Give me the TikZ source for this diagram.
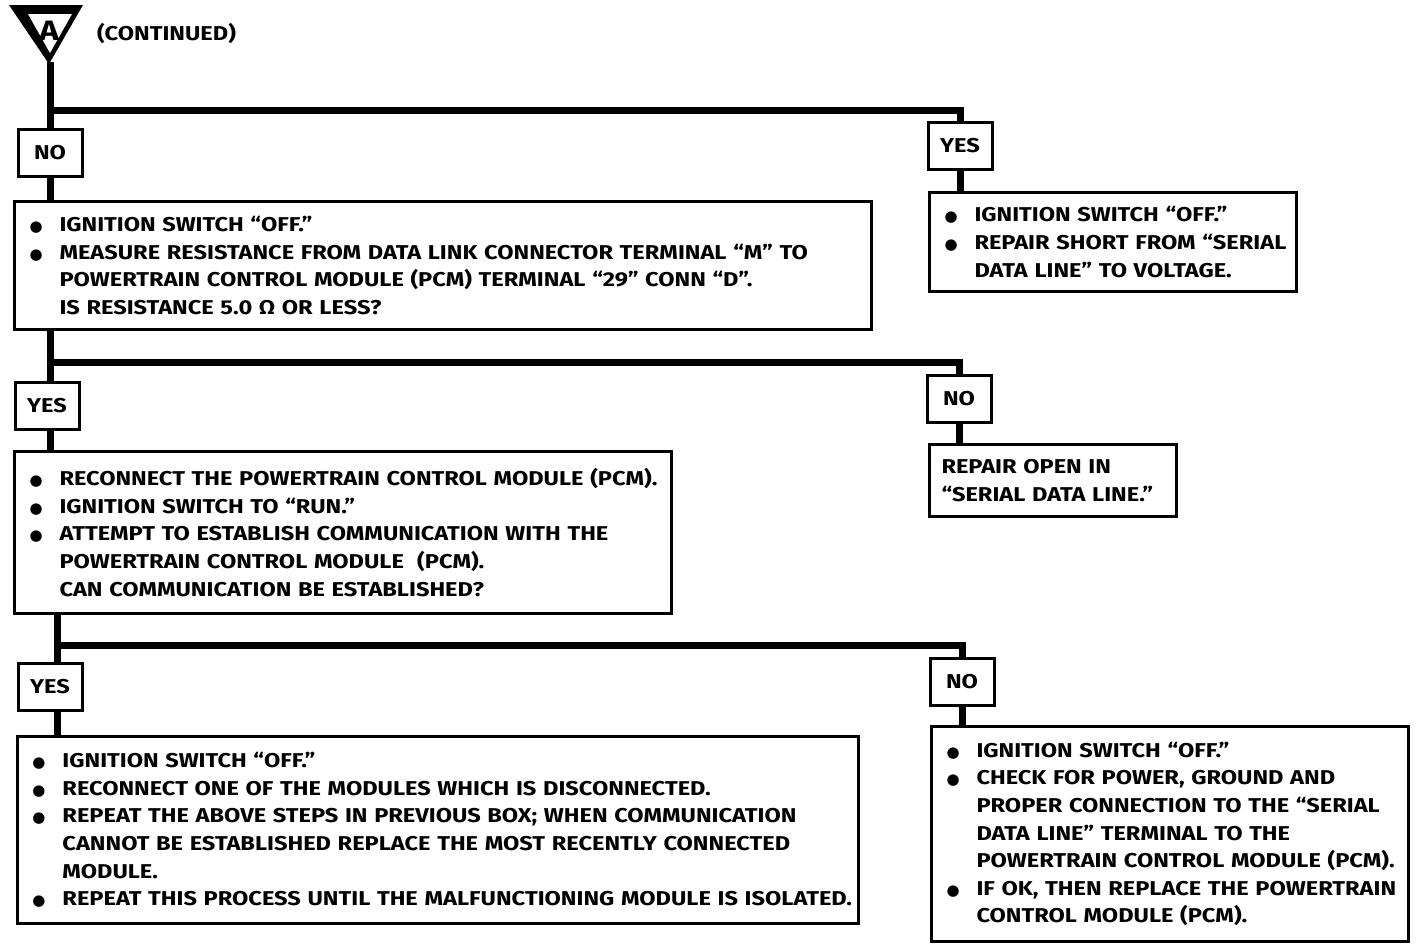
\documentclass[tikz,border=0pt]{standalone}
\usepackage{fontspec}
\setmainfont[FakeStretch=1.18]{Fira Sans}
\newfontfamily\symfont{DejaVu Sans}
\usetikzlibrary{positioning}

\newcommand\bl[1]{\makebox[16pt][l]{\hspace{1pt}{\symfont\fontsize{7.5}{7.5}\selectfont ●}}\mbox{#1}}
\newcommand\cl[1]{\hspace*{16pt}\mbox{#1}}

\tikzset{
  stepbox/.style={draw, line width=1.5pt, anchor=north west, align=left,
    inner xsep=6.5pt, inner ysep=0pt},
  answer/.style={draw, line width=1.5pt, minimum width=32pt,
    minimum height=23.5pt, inner sep=0pt},
  wire/.style={line width=3.5pt}
}

\begin{document}
\begin{tikzpicture}[x=0.5pt, y=-0.5pt, font=\bfseries\fontsize{10}{13.8}\selectfont]
  \useasboundingbox (0,0) rectangle (1424,948);

  % continuation mark
  \fill (9,5) -- (83,5) -- (49,64) -- cycle;
  \fill[white] (28,14) -- (72,14) -- (50,53) -- cycle;
  \node[font=\bfseries\fontsize{14}{14}\selectfont] (mark) at (49,31) {A};
  \coordinate (apex) at (50,62);
  \node[anchor=west] (cont) at (90,33) {(CONTINUED)};

  % first test
  \node[answer] (no1) at (50,153) {NO};
  \node[answer] (yes1) at (960,146) {YES};
  \node[stepbox, text width=415.5pt, minimum height=64pt] (chk1) at (13,200)
    {\bl{IGNITION SWITCH “OFF.”}\\
     \bl{MEASURE RESISTANCE FROM DATA LINK CONNECTOR TERMINAL “M” TO}\\
     \cl{POWERTRAIN CONTROL MODULE (PCM) TERMINAL “29” CONN “D”.}\\
     \cl{IS RESISTANCE 5.0 Ω OR LESS?}};
  \node[stepbox, text width=170.5pt, minimum height=49.5pt] (rep1) at (928,191)
    {\bl{IGNITION SWITCH “OFF.”}\\
     \bl{REPAIR SHORT FROM “SERIAL}\\
     \cl{DATA LINE” TO VOLTAGE.}};
  \coordinate (j1) at (50,110);
  \draw[wire] (apex) -- (no1.north);
  \draw[wire] (j1) -| (yes1.north);
  \draw[wire] (no1.south) -- (no1.south |- chk1.north);
  \draw[wire] (yes1.south) -- (yes1.south |- rep1.north);

  % second test
  \node[answer] (yes2) at (47,406) {YES};
  \node[answer] (no2) at (959,399) {NO};
  \node[stepbox, inner xsep=6pt, text width=111.5pt, minimum height=36pt] (rep2) at (928,443)
    {\mbox{REPAIR OPEN IN}\\
     \mbox{“SERIAL DATA LINE.”}};
  \node[stepbox, text width=315.5pt, minimum height=81pt] (chk2) at (13,450)
    {\bl{RECONNECT THE POWERTRAIN CONTROL MODULE (PCM).}\\
     \bl{IGNITION SWITCH TO “RUN.”}\\
     \bl{ATTEMPT TO ESTABLISH COMMUNICATION WITH THE}\\
     \cl{POWERTRAIN CONTROL MODULE \ (PCM).}\\
     \cl{CAN COMMUNICATION BE ESTABLISHED?}};
  \coordinate (j2) at (50,362);
  \draw[wire] (chk1.south -| j2) -- (yes2.north -| j2);
  \draw[wire] (j2) -| (no2.north);
  \draw[wire] (yes2.south -| j2) -- (chk2.north -| j2);
  \draw[wire] (no2.south) -- (no2.south |- rep2.north);

  % third test
  \node[answer] (yes3) at (50,687) {YES};
  \node[answer] (no3) at (962,682) {NO};
  \node[stepbox, text width=407.5pt, minimum height=93.5pt] (chk3) at (16,735)
    {\bl{IGNITION SWITCH “OFF.”}\\
     \bl{RECONNECT ONE OF THE MODULES WHICH IS DISCONNECTED.}\\
     \bl{REPEAT THE ABOVE STEPS IN PREVIOUS BOX; WHEN COMMUNICATION}\\
     \cl{CANNOT BE ESTABLISHED REPLACE THE MOST RECENTLY CONNECTED}\\
     \cl{MODULE.}\\
     \bl{REPEAT THIS PROCESS UNTIL THE MALFUNCTIONING MODULE IS ISOLATED.}};
  \node[stepbox, text width=225.5pt, minimum height=107.5pt] (fix3) at (930,725)
    {\bl{IGNITION SWITCH “OFF.”}\\
     \bl{CHECK FOR POWER, GROUND AND}\\
     \cl{PROPER CONNECTION TO THE “SERIAL}\\
     \cl{DATA LINE” TERMINAL TO THE}\\
     \cl{POWERTRAIN CONTROL MODULE (PCM).}\\
     \bl{IF OK, THEN REPLACE THE POWERTRAIN}\\
     \cl{CONTROL MODULE (PCM).}};
  \coordinate (j3) at (57,645);
  \draw[wire] (chk2.south -| j3) -- (yes3.north -| j3);
  \draw[wire] (j3) -| (no3.north);
  \draw[wire] (yes3.south -| j3) -- (chk3.north -| j3);
  \draw[wire] (no3.south) -- (no3.south |- fix3.north);
\end{tikzpicture}
\end{document}
